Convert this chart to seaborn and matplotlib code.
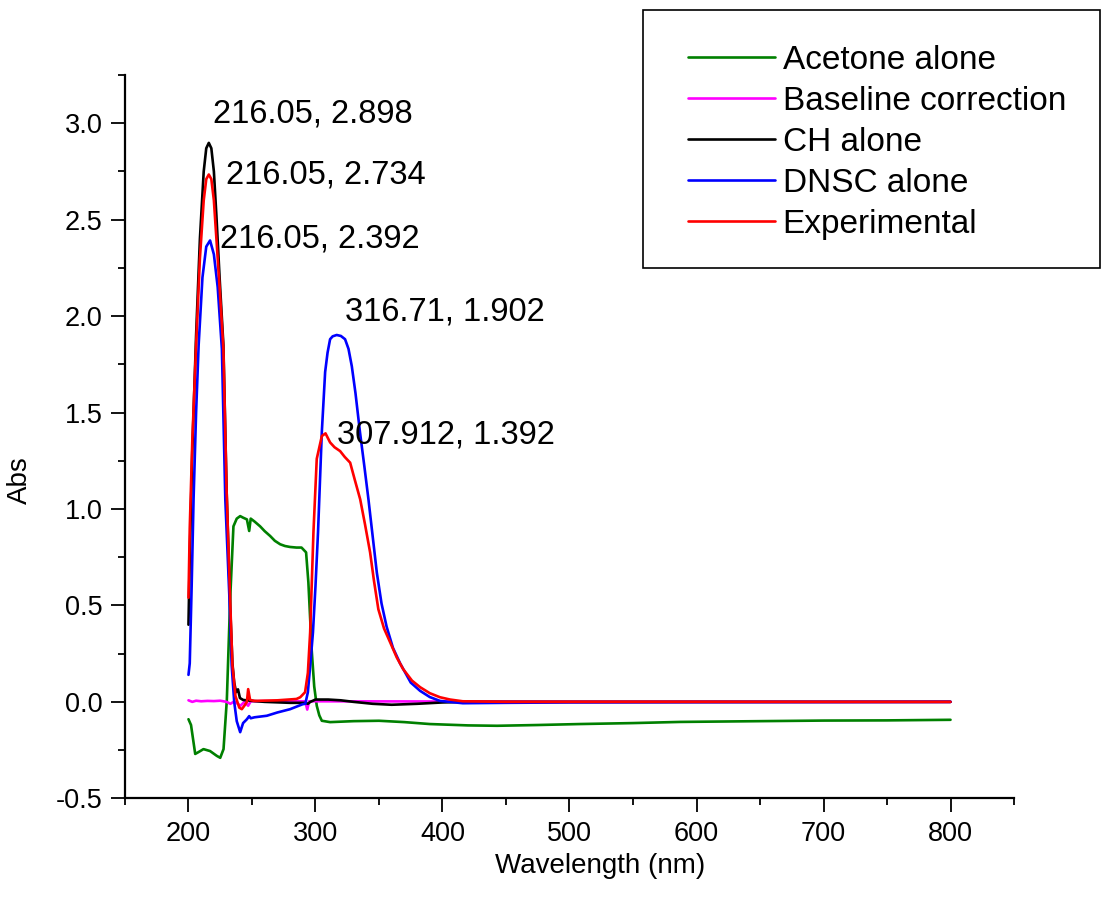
import matplotlib
matplotlib.use("Agg")
import matplotlib.pyplot as plt
from matplotlib import ticker
from matplotlib.patches import Rectangle
import seaborn as sns

# ---- data ----
wl_acetone = [200, 202, 205.3, 208, 211.8, 217, 222.3, 225, 227.6, 230.2, 232.8, 235.4, 238, 240.7,
              243, 246, 247.8, 249, 252, 256.4, 260, 264.3, 268, 272.2, 276, 280, 285, 289, 292.6,
              294.4, 297, 299, 301, 303, 305, 311.5, 330, 350, 370, 390, 420, 443, 475, 508, 550,
              587, 650, 700, 750, 800]
abs_acetone = [-0.09, -0.12, -0.27, -0.26, -0.245, -0.255, -0.28, -0.29, -0.245, 0.01, 0.53, 0.91, 0.95, 0.963,
               0.955, 0.946, 0.886, 0.95, 0.935, 0.91, 0.885, 0.86, 0.835, 0.817, 0.808, 0.803, 0.80, 0.80, 0.775,
               0.62, 0.27, 0.08, -0.02, -0.07, -0.098, -0.105, -0.10, -0.098, -0.105, -0.115, -0.122, -0.124, -0.12, -0.115, -0.11,
               -0.104, -0.10, -0.097, -0.096, -0.093]

wl_baseline = [200, 203, 206, 210, 215, 220, 225, 230, 233, 236, 241, 244, 247, 249, 260, 280, 292,
               293.5, 295, 300, 400, 500, 600, 700, 800]
abs_baseline = [0.008, 0.0, 0.006, 0.003, 0.005, 0.004, 0.006, 0.0, -0.01, 0.002, -0.02, 0.0, -0.02, 0.003,
                0.004, 0.003, 0.003, -0.04, 0.003, 0.003, 0.002, 0.001, 0.001, 0.0, 0.0]

wl_ch = [200, 201, 203, 206, 209, 212, 214, 216, 218, 220, 222, 224.5, 227.5, 230, 232.8, 234.6, 236,
         237.5, 239, 240.5, 243, 250, 260, 280, 292, 294, 296, 300, 310, 320, 330, 345, 360, 380, 400,
         420, 500, 600, 700, 800]
abs_ch = [0.40, 0.75, 1.3, 1.9, 2.4, 2.75, 2.87, 2.898, 2.87, 2.75, 2.52, 2.2, 1.85, 1.1, 0.5, 0.2, 0.1,
          0.05, 0.065, 0.02, 0.01, 0.005, 0.0, -0.005, -0.005, -0.01, 0.0, 0.012, 0.012, 0.008, 0.0, -0.01, -0.015, -0.01, -0.003,
          0.0, 0.0, 0.0, 0.0, 0.0]

wl_dnsc = [200, 201, 202.5, 204, 206, 208, 211, 214, 217, 220, 223, 226.3, 229, 232.3, 234, 236, 238,
           240.7, 243, 246, 247.8, 249, 252, 261.7, 270, 280, 290, 292, 294, 296, 298, 300, 302, 305,
           307.6, 309.5, 311.5, 313.5, 316.7, 320, 323.3, 326, 328.6, 331.5, 335, 338.5, 341.7, 345,
           348.3, 352, 356, 361, 366.6, 375, 382.4, 390, 398, 416, 450, 500, 600, 800]
abs_dnsc = [0.14, 0.2, 0.6, 1.05, 1.5, 1.85, 2.2, 2.36, 2.392, 2.32, 2.15, 1.83, 1.05, 0.53, 0.19, 0.0, -0.1,
            -0.157, -0.11, -0.09, -0.074, -0.085, -0.08, -0.072, -0.055, -0.038, -0.012, -0.01, 0.05, 0.2, 0.36, 0.6, 0.88, 1.40,
            1.71, 1.81, 1.88, 1.895, 1.902, 1.897, 1.88, 1.83, 1.74, 1.6, 1.40, 1.22, 1.05, 0.86,
            0.67, 0.51, 0.39, 0.28, 0.2, 0.1, 0.057, 0.025, 0.005, -0.007, -0.005, -0.003, -0.002, 0.0]

wl_exp = [200, 201, 203, 206, 209, 212, 214, 216, 218, 220, 222, 224.5, 227.5, 230, 232.8, 234.6, 237,
          240, 242, 244, 246, 247, 248.5, 252, 270, 285, 288, 291.8, 294, 295.8, 298.4, 301, 305, 307.9,
          311.5, 315, 319.4, 323, 327.3, 331, 335.2, 339, 343, 346, 349.5, 354, 358.7, 364, 369, 376,
          382.4, 390, 398, 406, 416, 450, 600, 800]
abs_exp = [0.54, 0.9, 1.35, 1.85, 2.3, 2.6, 2.71, 2.734, 2.71, 2.6, 2.4, 2.15, 1.83, 1.1, 0.53, 0.19, 0.03,
           -0.03, -0.038, -0.02, 0.0, 0.066, 0.01, 0.005, 0.008, 0.015, 0.024, 0.05, 0.15, 0.36, 0.88, 1.26, 1.378, 1.392,
           1.345, 1.32, 1.30, 1.27, 1.24, 1.15, 1.05, 0.92, 0.775, 0.63, 0.48, 0.38, 0.31, 0.23, 0.17, 0.11,
           0.076, 0.045, 0.024, 0.012, 0.003, 0.0, 0.0, 0.0]

series_names = ["Acetone alone", "Baseline correction", "CH alone", "DNSC alone", "Experimental"]
series_colors = ["#008000", "#ff00ff", "#000000", "#0000ff", "#ff0000"]
series_x = [wl_acetone, wl_baseline, wl_ch, wl_dnsc, wl_exp]
series_y = [abs_acetone, abs_baseline, abs_ch, abs_dnsc, abs_exp]

peak_labels = ["216.05, 2.898", "216.05, 2.734", "216.05, 2.392", "316.71, 1.902", "307.912, 1.392"]
peak_text_pos = [(219.4, 3.05), (229.7, 2.73), (225.0, 2.40), (323.3, 2.02), (317.0, 1.385)]

# ---- style ----
sns.set_theme(style="ticks")
plt.rcParams['font.family'] = ['Liberation Sans', 'DejaVu Sans']
plt.rcParams['text.color'] = 'black'
plt.rcParams['axes.labelcolor'] = 'black'

fig = plt.figure(figsize=(11.04, 9.11), dpi=100)
ax = fig.add_axes([0.1132, 0.1237, 0.8053, 0.794])

for name, col, xs, ys in zip(series_names, series_colors, series_x, series_y):
    sns.lineplot(x=xs, y=ys, ax=ax, color=col, label=name, linewidth=1.9, sort=False, estimator=None)

for txt, (tx, ty) in zip(peak_labels, peak_text_pos):
    ax.text(tx, ty, txt, fontsize=23.5, ha='left', va='center', color='black')

ax.set_xlim(150, 850)
ax.set_ylim(-0.5, 3.25)
ax.xaxis.set_major_locator(ticker.MultipleLocator(100))
ax.xaxis.set_minor_locator(ticker.MultipleLocator(50))
ax.yaxis.set_major_locator(ticker.MultipleLocator(0.5))
ax.yaxis.set_minor_locator(ticker.MultipleLocator(0.25))
ax.yaxis.set_major_formatter(ticker.FuncFormatter(lambda v, p: f"{v:.1f}"))

for s in ['top', 'right']:
    ax.spines[s].set_visible(False)
for s in ['left', 'bottom']:
    ax.spines[s].set_linewidth(1.6)
    ax.spines[s].set_color('black')

ax.tick_params(which='major', direction='out', length=10, width=1.3, labelsize=19.5, pad=6,
               colors='black', labelcolor='black')
ax.tick_params(which='minor', direction='out', length=5, width=1.3, colors='black')

ax.set_ylabel("Abs", fontsize=20, color='black')
ax.yaxis.set_label_coords(-0.103, 0.44)
ax.set_xlabel("Wavelength (nm)", fontsize=20, color='black')
ax.xaxis.set_label_coords(0.534, -0.075)

# legend sits outside the axes, in the top right corner
leg = ax.legend(loc='upper left', bbox_to_anchor=(688 / 1104, 1 - 45 / 911),
                bbox_transform=fig.transFigure, frameon=False, fontsize=24,
                handlelength=2.6, handletextpad=0.24, labelspacing=0.3,
                borderpad=0, borderaxespad=0)
for h in leg.get_lines():
    h.set_linewidth(1.9)
for t in leg.get_texts():
    t.set_color('black')
fig.patches.append(Rectangle((643 / 1104, 1 - 268 / 911), 457 / 1104, 258 / 911,
                             transform=fig.transFigure, fill=False, edgecolor='black', linewidth=1.2))

fig.savefig("out.png", dpi=100)
